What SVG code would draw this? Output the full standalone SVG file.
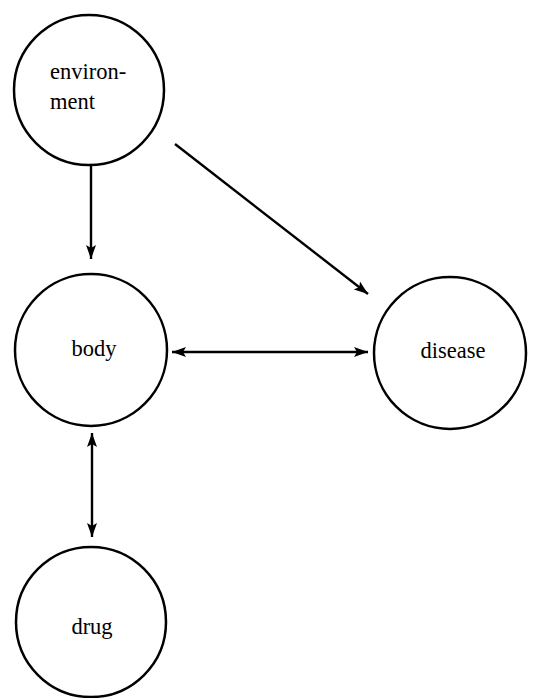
<svg xmlns="http://www.w3.org/2000/svg" width="534" height="698" viewBox="0 0 534 698">
<style>
.node{fill:#fff;stroke:#000;stroke-width:2.5}
.lbl{font-family:"Liberation Serif","Times New Roman",serif;font-size:22.5px;fill:#000}
.edge{stroke:#000;stroke-width:2.4;fill:none}
</style>
<defs>
<marker id="ah" viewBox="0 0 14 10" refX="14" refY="5" markerWidth="14" markerHeight="10" markerUnits="userSpaceOnUse" orient="auto-start-reverse">
<path d="M0,0 L14,5 L0,10 L3,5 z" fill="#000"/>
</marker>
</defs>
<rect width="534" height="698" fill="#fff"/>
<g id="connectors">
<line class="edge" x1="91" y1="161" x2="91" y2="259" marker-end="url(#ah)"/>
<line class="edge" x1="175" y1="144" x2="368" y2="294" marker-end="url(#ah)"/>
<line class="edge" x1="172" y1="352" x2="368" y2="352" marker-start="url(#ah)" marker-end="url(#ah)"/>
<line class="edge" x1="92" y1="433" x2="92" y2="537" marker-start="url(#ah)" marker-end="url(#ah)"/>
</g>
<g id="environment">
<circle class="node" cx="89" cy="90" r="75"/>
<text class="lbl" x="50" y="79">environ-</text>
<text class="lbl" x="50" y="109">ment</text>
</g>
<g id="body">
<circle class="node" cx="91" cy="350" r="76"/>
<text class="lbl" x="94" y="356" text-anchor="middle">body</text>
</g>
<g id="disease">
<circle class="node" cx="450" cy="353" r="76"/>
<text class="lbl" x="453" y="358" text-anchor="middle">disease</text>
</g>
<g id="drug">
<circle class="node" cx="91" cy="622" r="75"/>
<text class="lbl" x="92" y="634" text-anchor="middle">drug</text>
</g>
</svg>
